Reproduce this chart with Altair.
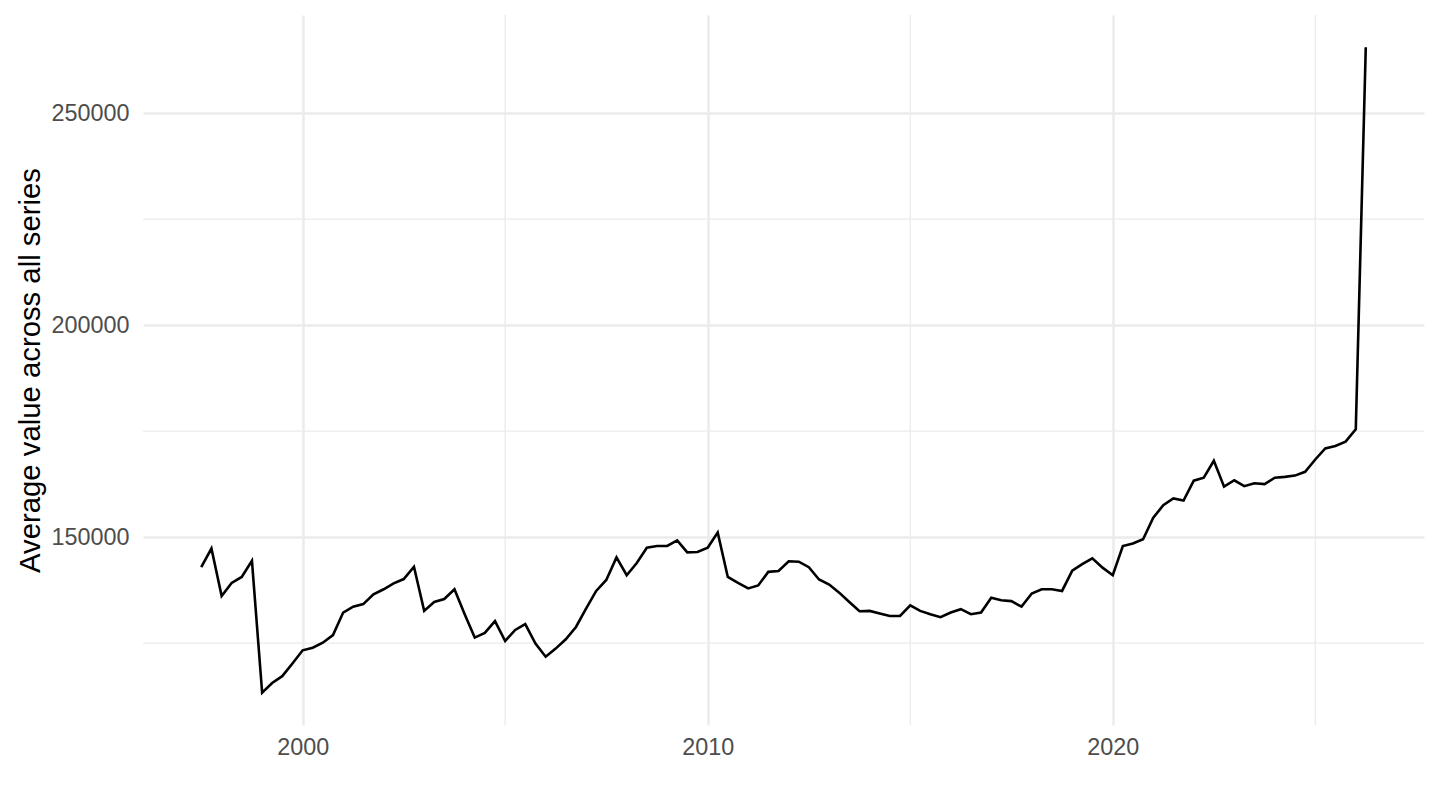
import altair as alt
import pandas as pd

# Quarterly observations, 1997 Q3 .. 2026 Q2
start_date = "1997-07-01"
n_quarters = 116

avg_value = [
    142900, 147300, 136100, 139200, 140600, 144400, 113300, 115600, 117200, 120200,
    123300, 123900, 125100, 126900, 132200, 133600, 134200, 136500, 137700, 139100,
    140100, 143000, 132600, 134700, 135400, 137700, 131800, 126300, 127400, 130200,
    125500, 128100, 129500, 124900, 121800, 123700, 125900, 128800, 133200, 137300,
    139900, 145200, 141000, 143900, 147500, 147900, 147900, 149200, 146400, 146500,
    147500, 151100, 140600, 139200, 137900, 138600, 141800, 142000, 144300, 144200,
    142900, 140000, 138800, 136900, 134700, 132500, 132600, 132000, 131400, 131400,
    133900, 132600, 131800, 131100, 132200, 133000, 131800, 132200, 135700, 135100,
    134900, 133600, 136700, 137700, 137700, 137300, 142100, 143600, 145000, 142800,
    141000, 147900, 148500, 149500, 154600, 157500, 159100, 158600, 163300, 164000,
    168000, 161900, 163400, 162000, 162700, 162500, 164000, 164200, 164500, 165400,
    168300, 170900, 171500, 172500, 175400, 265500,
]

x_major = [2000, 2010, 2020]
x_minor = [2005, 2015, 2025]
y_major = [150000, 200000, 250000]
y_minor = [125000, 175000, 225000]

dates = pd.date_range(start_date, periods=n_quarters, freq="QS")
frac_year = [d.year + (d.dayofyear - 1) / (366 if d.is_leap_year else 365) for d in dates]
df = pd.DataFrame({"t": frac_year, "value": avg_value})

x_lo, x_hi = min(frac_year), max(frac_year)
y_lo, y_hi = min(avg_value), max(avg_value)
xpad = (x_hi - x_lo) * 0.05
ypad = (y_hi - y_lo) * 0.05

xscale = alt.Scale(domain=[x_lo - xpad, x_hi + xpad], nice=False, zero=False)
yscale = alt.Scale(domain=[y_lo - ypad, y_hi + ypad], nice=False, zero=False)

GRID = "#EBEBEB"
FONT = "Liberation Sans"

x_axis = alt.Axis(
    values=x_major, format="d", title=None, grid=True, gridColor=GRID,
    gridWidth=2.5, domain=False, ticks=False, labelPadding=11,
    labelFont=FONT, labelFontSize=23.4, labelColor="#4D4D4D",
)
y_axis = alt.Axis(
    values=y_major, format="d", title="Average value across all series",
    grid=True, gridColor=GRID, gridWidth=2.5, domain=False, ticks=False,
    labelPadding=14, labelFont=FONT, labelFontSize=23.4,
    labelColor="#4D4D4D", titleFont=FONT, titleFontSize=29.3,
    titleFontWeight="normal", titleColor="black", titlePadding=5,
)

minor_x = alt.Chart(pd.DataFrame({"v": x_minor})).mark_rule(
    color=GRID, strokeWidth=1.3
).encode(x=alt.X("v:Q", scale=xscale, axis=x_axis))

minor_y = alt.Chart(pd.DataFrame({"v": y_minor})).mark_rule(
    color=GRID, strokeWidth=1.3
).encode(y=alt.Y("v:Q", scale=yscale, axis=y_axis))

line = alt.Chart(df).mark_line(color="black", strokeWidth=2.6).encode(
    x=alt.X("t:Q", scale=xscale, axis=x_axis),
    y=alt.Y("value:Q", scale=yscale, axis=y_axis),
)

chart = (
    alt.layer(minor_x, minor_y, line)
    .properties(
        width=1281,
        height=710,
        padding={"left": 135, "top": 7, "right": 8, "bottom": 50},
        autosize=alt.AutoSizeParams(type="none"),
        background="white",
    )
    .configure_view(strokeWidth=0, stroke=None)
)

chart.save("out.html", embed_options={"renderer": "svg", "actions": False})
